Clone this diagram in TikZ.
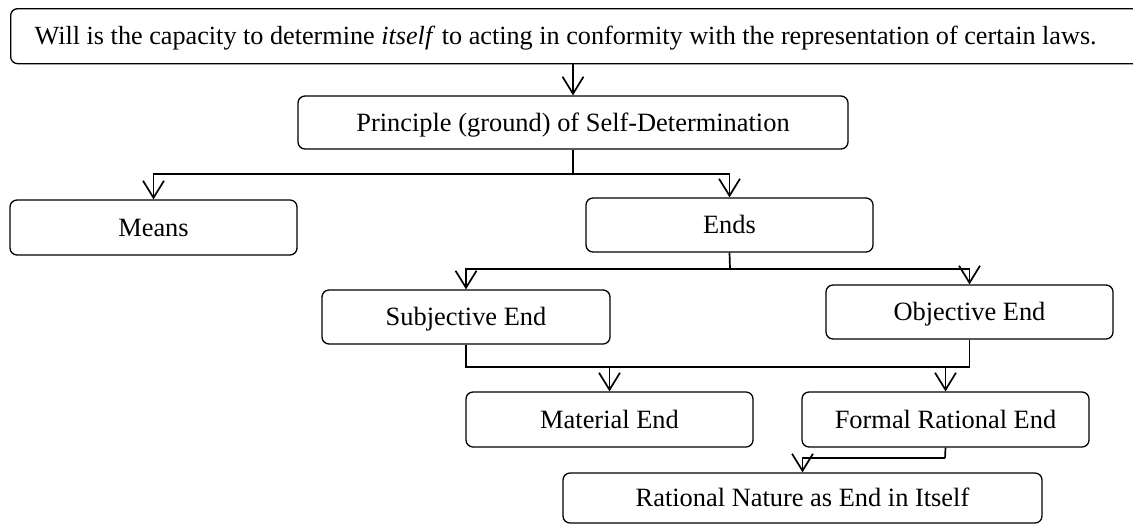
\documentclass[tikz,border=0pt]{standalone}
\usepackage{fontspec}
\setmainfont{Liberation Serif}
\usetikzlibrary{arrows.meta}
\begin{document}
\begin{tikzpicture}[x=0.5pt,y=-0.5pt,
  box/.style={draw, rounded corners=3.5pt, line width=0.65pt, inner sep=0pt,
    font=\fontsize{13.2}{15}\selectfont, text=black, text height=9pt, text depth=0.3pt},
  conn/.style={line width=0.85pt},
  arr/.style={conn, -{Straight Barb[length=8.5pt,width=10.5pt,line width=0.85pt]}}]
\useasboundingbox (0,0) rectangle (1133,527);
% nodes
\node[box, minimum height=27.5pt, anchor=north west, inner xsep=12pt] (will) at (10,8)
  {\makebox[543pt][l]{\fontsize{13.1}{15}\selectfont Will is the capacity to determine \textit{itself} to acting in conformity with the representation of certain laws.}};
\node[box, minimum width=275pt, minimum height=26.5pt] (princ) at (573,122.5) {Principle (ground) of Self-Determination};
\node[box, minimum width=143.5pt, minimum height=27.5pt] (means) at (153.5,227.5) {Means};
\node[box, minimum width=143.5pt, minimum height=27pt] (ends) at (729.5,225) {Ends};
\node[box, minimum width=144pt, minimum height=27pt] (subj) at (466,317) {Subjective End};
\node[box, minimum width=143.5pt, minimum height=27pt] (obj) at (969.5,312) {Objective End};
\node[box, minimum width=143.5pt, minimum height=27.5pt] (mat) at (609.5,419.5) {Material End};
\node[box, minimum width=143.5pt, minimum height=27.5pt] (formal) at (945.5,419.5) {Formal Rational End};
\node[box, minimum width=239.5pt, minimum height=25pt] (rat) at (802.5,498) {Rational Nature as End in Itself};
% coordinates
\coordinate (p1) at (573,174);
\coordinate (e1) at (730,269);
\coordinate (s1) at (466,367);
\coordinate (f1) at (945,458);
% connectors
\draw[arr] (princ.north |- will.south) -- (princ.north);
\draw[conn] (princ.south) -- (p1);
\draw[arr] (p1) -| (means.north);
\draw[arr] (p1) -| (ends.north);
\draw[conn] (ends.south) -- (e1);
\draw[arr] (e1) -| (subj.north);
\draw[arr] (e1) -| (obj.north);
\draw[conn] (subj.south) |- (s1 -| obj.south) -- (obj.south);
\draw[arr] (s1 -| mat.north) -- (mat.north);
\draw[arr] (s1 -| formal.north) -- (formal.north);
\draw[conn] (formal.south) -- (f1);
\draw[arr] (f1) -| (rat.north);
\end{tikzpicture}
\end{document}
